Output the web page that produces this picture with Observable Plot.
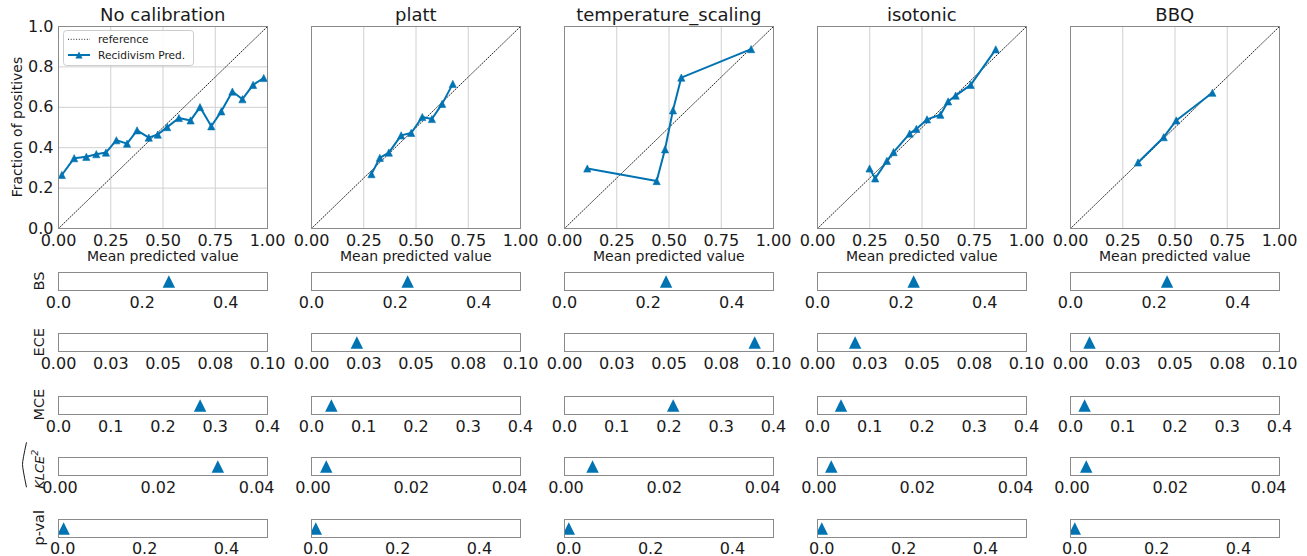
<!DOCTYPE html>
<html><head><meta charset="utf-8">
<script src="https://cdn.jsdelivr.net/npm/d3@7"></script>
<script src="https://cdn.jsdelivr.net/npm/@observablehq/plot@0.6"></script>
<style>
body{margin:0;background:#fff;font-family:"DejaVu Sans",sans-serif}
#c{position:relative;width:1307px;height:556px;overflow:hidden;background:#fff}
</style></head>
<body><div id="c"></div>
<script>
// ---------------- data ----------------
const methods = ["No calibration", "platt", "temperature_scaling", "isotonic", "BBQ"];

const noCalPred = [0.016,0.075,0.133,0.181,0.227,0.277,0.328,0.376,0.432,0.475,0.520,0.576,0.632,0.677,0.731,0.779,0.832,0.880,0.931,0.982];
const noCalFrac = [0.265,0.348,0.355,0.368,0.376,0.437,0.420,0.486,0.450,0.465,0.502,0.547,0.535,0.601,0.506,0.580,0.678,0.640,0.711,0.745];

const plattPred = [0.287,0.327,0.370,0.429,0.477,0.530,0.576,0.625,0.676];
const plattFrac = [0.269,0.350,0.376,0.461,0.473,0.552,0.542,0.617,0.716];

const tempPred = [0.109,0.441,0.481,0.519,0.559,0.893];
const tempFrac = [0.297,0.235,0.392,0.585,0.747,0.888];

const isoPred = [0.249,0.276,0.332,0.364,0.441,0.473,0.524,0.588,0.625,0.661,0.733,0.853];
const isoFrac = [0.297,0.248,0.335,0.378,0.470,0.493,0.540,0.563,0.629,0.658,0.711,0.887];

const bbqPred = [0.323,0.446,0.506,0.679];
const bbqFrac = [0.327,0.452,0.535,0.672];

const predSeries = [noCalPred, plattPred, tempPred, isoPred, bbqPred];
const fracSeries = [noCalFrac, plattFrac, tempFrac, isoFrac, bbqFrac];

const referenceLine = [0, 1];

// metric scores per method (same order as methods)
const bsScores   = [0.264, 0.230, 0.243, 0.230, 0.231];
const eceScores  = [0.150, 0.0217, 0.091, 0.018, 0.0091];
const mceScores  = [0.271, 0.038, 0.208, 0.045, 0.027];
const klceScores = [0.0321, 0.0027, 0.0054, 0.0025, 0.0029];
const pvalScores = [0.002, 0.000, 0.000, 0.000, 0.000];

// ticks
const calibTicks = [0, 0.25, 0.5, 0.75, 1];
const fracTicks = [0, 0.2, 0.4, 0.6, 0.8, 1];
const bsTicks = [0, 0.2, 0.4];
const eceTicks = [0, 0.025, 0.05, 0.075, 0.1];
const eceTickLabels = ["0.00", "0.03", "0.05", "0.08", "0.10"];
const mceTicks = [0, 0.1, 0.2, 0.3, 0.4];
const klceTicks = [0, 0.02, 0.04];
const pvalTicks = [0, 0.2, 0.4];

// ---------------- layout / style ----------------
const color = "#0173b2";
const frameColor = "#8a8a8a";
const gridColor = "#d0d0d0";
const textColor = "#1a1a1a";
const font = "DejaVu Sans";
const colLeft = [58.3, 311.3, 564.3, 817.3, 1070.3];
const boxW = 209;
const topBoxY = 26, topBoxH = 202;
const metricTops = [272, 333.3, 395.7, 457.3, 518.8];
const metricH = 18;

const tri = {
  draw(ctx, size) {
    const h = Math.sqrt(size / Math.PI);
    ctx.moveTo(0, -h); ctx.lineTo(h, h); ctx.lineTo(-h, h); ctx.closePath();
  }
};

const container = document.getElementById("c");
function place(svg, left, top) {
  svg.style.position = "absolute";
  svg.style.left = left + "px";
  svg.style.top = top + "px";
  container.appendChild(svg);
}
const baseStyle = {background: "transparent", fontFamily: font, fontSize: "16px", color: textColor, overflow: "visible"};

// ---------------- top calibration panels ----------------
methods.forEach((m, i) => {
  const ml = 50, mr = 24, mt = 4, mb = 24;
  const marks = [
    Plot.gridX({ticks: calibTicks, stroke: gridColor, strokeOpacity: 1, strokeWidth: 1})
  ];
  if (i === 0) marks.push(Plot.gridY({ticks: fracTicks, stroke: gridColor, strokeOpacity: 1, strokeWidth: 1}));
  marks.push(
    Plot.line(referenceLine, {x: d => d, y: d => d, stroke: "#222", strokeWidth: 1, strokeDasharray: "1,1.7"}),
    Plot.line(fracSeries[i], {x: predSeries[i], y: fracSeries[i], stroke: color, strokeWidth: 2}),
    Plot.dot(fracSeries[i], {x: predSeries[i], y: fracSeries[i], symbol: tri, r: 3.6, fill: color, stroke: color, strokeWidth: 0.6}),
    Plot.axisX({ticks: calibTicks, tickSize: 0, tickPadding: 6, tickFormat: d3.format(".2f"), fontSize: 16, label: null})
  );
  if (i === 0) marks.push(Plot.axisY({ticks: fracTicks, tickSize: 0, tickPadding: 5, tickFormat: d3.format(".1f"), fontSize: 16, label: null}));
  marks.push(Plot.frame({stroke: frameColor, strokeWidth: 1}));
  const svg = Plot.plot({
    width: boxW + ml + mr, height: topBoxH + mt + mb,
    marginLeft: ml, marginRight: mr, marginTop: mt, marginBottom: mb,
    style: baseStyle,
    x: {domain: [0, 1]},
    y: {domain: [0, 1], axis: i === 0 ? undefined : null},
    marks
  });
  place(svg, colLeft[i] - ml, topBoxY - mt);
});

// ---------------- metric strips ----------------
const metricDefs = [
  {scores: bsScores, domain: [0, 0.5], ticks: bsTicks, fmt: d3.format(".1f"), pad: 6.5},
  {scores: eceScores, domain: [0, 0.1], ticks: eceTicks, fmt: d => eceTickLabels[eceTicks.indexOf(d)], pad: 6.5},
  {scores: mceScores, domain: [0, 0.4], ticks: mceTicks, fmt: d3.format(".1f"), pad: 6.5},
  {scores: klceScores, domain: [-0.0003, 0.0422], ticks: klceTicks, fmt: d3.format(".2f"), pad: 6.5},
  {scores: pvalScores, domain: [-0.0105, 0.5005], ticks: pvalTicks, fmt: d3.format(".1f"), pad: 5}
];
metricDefs.forEach((md, r) => {
  methods.forEach((m, i) => {
    const ml = 24, mr = 24, mt = 4, mb = 18;
    const svg = Plot.plot({
      width: boxW + ml + mr, height: metricH + mt + mb,
      marginLeft: ml, marginRight: mr, marginTop: mt, marginBottom: mb,
      style: baseStyle,
      x: {domain: md.domain},
      marks: [
        Plot.axisX({ticks: md.ticks, tickSize: 0, tickPadding: md.pad, tickFormat: md.fmt, fontSize: 16, label: null}),
        Plot.dotX([md.scores[i]], {x: d => d, symbol: tri, r: 6.2, fill: color, clip: true}),
        Plot.frame({stroke: frameColor, strokeWidth: 1})
      ]
    });
    place(svg, colLeft[i] - ml, metricTops[r] - mt);
  });
});

// ---------------- text overlay (titles, labels, legend) ----------------
const ns = "http://www.w3.org/2000/svg";
let ov = `<svg xmlns="${ns}" width="1307" height="556" style="position:absolute;left:0;top:0;pointer-events:none;font-family:'DejaVu Sans'" fill="${textColor}">`;
methods.forEach((m, i) => {
  const cx = colLeft[i] + boxW / 2;
  ov += `<text x="${cx}" y="21" font-size="18" text-anchor="middle">${m}</text>`;
  ov += `<text x="${cx}" y="261" font-size="14" text-anchor="middle">Mean predicted value</text>`;
});
ov += `<text transform="translate(22,${topBoxY + topBoxH / 2}) rotate(-90)" font-size="14" text-anchor="middle">Fraction of positives</text>`;
const mLabels = ["BS", "ECE", "MCE", null, "p-val"];
mLabels.forEach((lab, r) => {
  const cy = metricTops[r] + metricH / 2;
  if (lab) ov += `<text transform="translate(43.5,${cy}) rotate(-90)" font-size="14.5" text-anchor="middle">${lab}</text>`;
});
// KLCE^2 with wide hat
{
  const cy = metricTops[3] + metricH / 2;
  ov += `<text transform="translate(43.5,${cy + 3}) rotate(-90)" font-size="13" font-style="italic" text-anchor="middle">KLCE<tspan font-size="9.5" dy="-6">2</tspan></text>`;
  ov += `<path d="M26.5,${cy - 24} Q22.5,${cy - 6} 22.5,${cy - 2} Q22.5,${cy + 2} 26.5,${cy + 21}" fill="none" stroke="${textColor}" stroke-width="1"/>`;
}
// legend
ov += `<rect x="63.5" y="30.5" width="130" height="35" rx="3" fill="#fff" fill-opacity="0.85" stroke="#cccccc" stroke-width="1"/>`;
ov += `<line x1="68" x2="90" y1="39.3" y2="39.3" stroke="#222" stroke-width="1" stroke-dasharray="1,1.7"/>`;
ov += `<text x="98" y="43.3" font-size="10.6">reference</text>`;
ov += `<line x1="68" x2="90" y1="55" y2="55" stroke="${color}" stroke-width="2"/>`;
ov += `<path d="M79,51.4 L82.6,58.6 L75.4,58.6 Z" fill="${color}"/>`;
ov += `<text x="98" y="59" font-size="10.6">Recidivism Pred.</text>`;
ov += `</svg>`;
container.insertAdjacentHTML("beforeend", ov);
</script>
</body></html>
